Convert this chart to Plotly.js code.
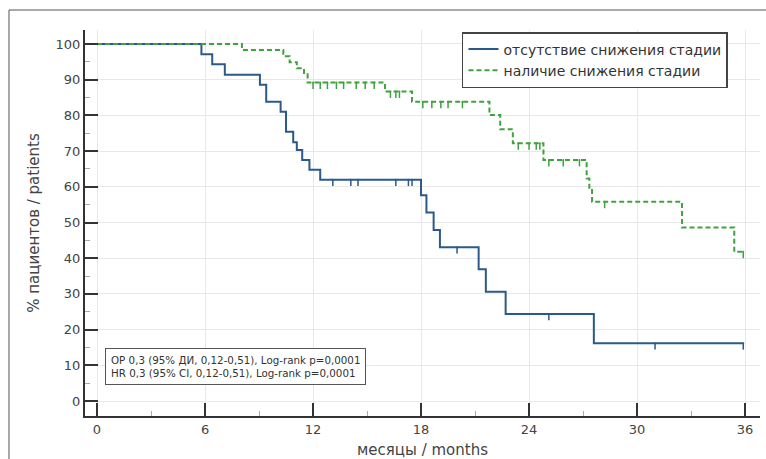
<!DOCTYPE html>
<html>
<head>
<meta charset="utf-8">
<script src="https://cdn.plot.ly/plotly-3.0.1.min.js"></script>
<style>html,body{margin:0;padding:0;background:#fff;}#chart{width:766px;height:459px;}</style>
</head>
<body>
<div id="chart"></div>
<script>
// Kaplan-Meier data (months, % patients)
const blueName = "отсутствие снижения стадии";
const blueT = [0, 5.8, 6.4, 7.1, 9.05, 9.4, 10.2, 10.5, 10.9, 11.1, 11.4, 11.8, 12.4, 18.0, 18.3, 18.7, 19.05, 21.2, 21.6, 22.7, 27.6, 35.9];
const blueS = [100, 97.1, 94.3, 91.4, 88.6, 83.8, 81.0, 75.4, 72.5, 70.3, 67.5, 64.8, 62.0, 57.6, 52.8, 47.9, 43.1, 36.9, 30.6, 24.4, 16.2, 16.2];
const blueCensor = [13.1, 14.1, 14.5, 16.6, 17.3, 17.5, 20.0, 25.1, 31.0, 35.9];

const greenName = "наличие снижения стадии";
const greenT = [0, 8.05, 10.35, 10.7, 11.1, 11.5, 11.7, 16.0, 17.5, 21.8, 22.4, 23.1, 24.8, 27.2, 27.35, 27.5, 32.5, 35.4, 35.9];
const greenS = [100, 98.3, 96.6, 94.9, 93.2, 91.5, 89.2, 86.7, 83.8, 80.1, 76.1, 72.2, 67.5, 62.3, 59.1, 55.8, 48.6, 41.8, 41.8];
const greenCensor = [12.0, 12.4, 12.8, 13.3, 13.7, 14.4, 14.9, 15.4, 16.3, 16.6, 16.8, 18.1, 18.6, 19.1, 19.5, 20.3, 23.4, 24.0, 24.4, 24.6, 25.1, 25.9, 26.8, 28.2, 35.9];

const xTicks = [0, 6, 12, 18, 24, 30, 36];
const yTicks = [0, 10, 20, 30, 40, 50, 60, 70, 80, 90, 100];
const statsText = ["ОР 0,3 (95% ДИ, 0,12-0,51), Log-rank p=0,0001", "HR 0,3 (95% CI, 0,12-0,51), Log-rank p=0,0001"];
const xTitle = "месяцы / months";
const yTitle = "% пациентов / patients";

const blueColor = "#2b5a8a";
const greenColor = "#3fa23f";
const FONT = "DejaVu Sans, Arial, sans-serif";

function stepAt(T, S, t) {
  let v = S[0];
  for (let i = 0; i < T.length; i++) { if (T[i] <= t) v = S[i]; }
  return v;
}
function censorTrace(ts, T, S, color) {
  return {
    x: ts, y: ts.map(t => stepAt(T, S, t)), type: "scatter", mode: "markers",
    marker: {size: 2, color: color}, showlegend: false, hoverinfo: "skip",
    error_y: {type: "data", symmetric: false, array: ts.map(() => 0), arrayminus: ts.map(() => 1.8), width: 0, thickness: 1.5, color: color}
  };
}

const traces = [
  {x: blueT, y: blueS, type: "scatter", mode: "lines", line: {shape: "hv", color: blueColor, width: 2}, name: blueName},
  {x: greenT, y: greenS, type: "scatter", mode: "lines", line: {shape: "hv", color: greenColor, width: 2, dash: "5px,3px"}, name: greenName},
  censorTrace(blueCensor, blueT, blueS, blueColor),
  censorTrace(greenCensor, greenT, greenS, greenColor)
];

const layout = {
  width: 766, height: 459,
  margin: {l: 85, r: 6, t: 30, b: 43},
  paper_bgcolor: "#fff", plot_bgcolor: "#fff",
  font: {family: FONT, size: 13, color: "#444"},
  xaxis: {
    range: [-0.667, 36.83], tickvals: xTicks, ticktext: xTicks.map(String),
    ticks: "inside", ticklen: 13, tickwidth: 2, tickcolor: "#333",
    showline: true, linecolor: "#333", linewidth: 2,
    showgrid: true, gridcolor: "#e8e8e8", gridwidth: 1, zeroline: false,
    minor: {dtick: 3, tick0: 0, ticks: "inside", ticklen: 5, tickcolor: "#aaa", tickwidth: 1, showgrid: false},
    title: {text: xTitle, font: {family: FONT, size: 15, color: "#444"}, standoff: 9},
    automargin: false
  },
  yaxis: {
    range: [-4.2, 103.92], tickvals: yTicks, ticktext: yTicks.map(String),
    ticks: "inside", ticklen: 13, tickwidth: 2, tickcolor: "#333",
    showline: true, linecolor: "#333", linewidth: 2,
    showgrid: true, gridcolor: "#e8e8e8", gridwidth: 1, zeroline: false,
    minor: {dtick: 5, tick0: 0, ticks: "inside", ticklen: 5, tickcolor: "#aaa", tickwidth: 1, showgrid: false},
    title: {text: yTitle, font: {family: FONT, size: 15, color: "#444"}, standoff: 12},
    automargin: false
  },
  legend: {
    x: 0.5585, y: 0.9948, xanchor: "left", yanchor: "top",
    bgcolor: "#fff", bordercolor: "#444", borderwidth: 1.5,
    font: {family: FONT, size: 14, color: "#333"}, tracegroupgap: 0
  },
  annotations: [{
    xref: "paper", yref: "paper", x: 0.2237, y: 0.128, xanchor: "center", yanchor: "middle",
    text: statsText.join("<br>"), showarrow: false, align: "left",
    font: {family: FONT, size: 10.3, color: "#333"}, bordercolor: "#555", borderwidth: 1, borderpad: 5, bgcolor: "#fff"
  }],
  shapes: [{
    type: "rect", xref: "paper", yref: "paper", x0: -0.1126, x1: 1.3, y0: -0.5, y1: 1.0518,
    line: {color: "#555", width: 1}, fillcolor: "rgba(0,0,0,0)", layer: "below"
  }]
};

Plotly.newPlot("chart", traces, layout, {displayModeBar: false, staticPlot: true});
</script>
</body>
</html>
